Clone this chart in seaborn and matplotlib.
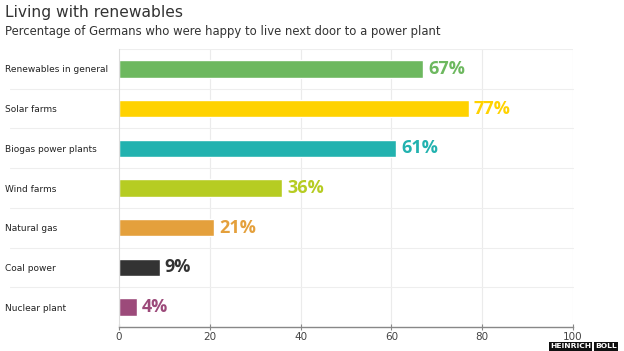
import pandas as pd
import matplotlib
matplotlib.use("Agg")
import matplotlib.pyplot as plt
import seaborn as sns

# data
categories = ["Renewables in general", "Solar farms", "Biogas power plants",
              "Wind farms", "Natural gas", "Coal power", "Nuclear plant"]
values = [67, 77, 61, 36, 21, 9, 4]
bar_colors = ["#6DB85F", "#FFD200", "#22B2AF", "#B6CC22", "#E4A03C", "#333333", "#9C4A7A"]
x_ticks = [0, 20, 40, 60, 80, 100]

df = pd.DataFrame({"category": categories, "value": values})

sns.set_style("white")
plt.rcParams["font.family"] = ["DejaVu Sans"]

fig = plt.figure(figsize=(6.24, 3.51), dpi=100)
ax = fig.add_axes([119 / 624, 1 - 327 / 351, (573 - 119) / 624, (327 - 49) / 351])

sns.barplot(data=df, x="value", y="category", hue="category", palette=bar_colors,
            legend=False, width=0.44, saturation=1, ax=ax)

# grid: vertical lines at ticks, horizontal lines between rows
for t in x_ticks[1:]:
    ax.axvline(t, color="#EBEBEB", lw=0.8, zorder=0)
for i in range(len(categories) - 1):
    ax.axhline(i + 0.5, xmin=-0.24, xmax=1.0, color="#EEEEEE", lw=0.8, zorder=0, clip_on=False)
ax.axhline(-0.5, xmin=0, xmax=1.0, color="#EEEEEE", lw=0.8, zorder=0)

# value labels in bar colour
for i, (v, c) in enumerate(zip(values, bar_colors)):
    ax.text(v + 1.1, i, f"{v}%", color=c, fontsize=13, fontweight="bold",
            fontstyle="normal", family="Open Sans", va="center", ha="left")

ax.set_xlim(0, 100)
ax.set_ylim(len(categories) - 0.5, -0.5)
ax.set_xticks(x_ticks)
ax.set_xlabel("")
ax.set_ylabel("")
for s in ["top", "right"]:
    ax.spines[s].set_visible(False)
ax.spines["left"].set_color("#DDDDDD")
ax.spines["left"].set_linewidth(0.8)
ax.spines["bottom"].set_color("#888888")
ax.spines["bottom"].set_linewidth(1.0)
ax.tick_params(axis="x", direction="inout", length=5, width=0.8, color="#888888",
               labelsize=7.5, labelcolor="#444444", pad=1, bottom=True)
ax.tick_params(axis="y", length=0, labelsize=6.5, labelcolor="#222222", pad=82)
for lbl in ax.get_yticklabels():
    lbl.set_horizontalalignment("left")

fig.text(5 / 624, 1 - 13 / 351, "Living with renewables", fontsize=11.2,
         color="#333333", va="center", ha="left")
fig.text(5 / 624, 1 - 31 / 351,
         "Percentage of Germans who were happy to live next door to a power plant",
         fontsize=8.4, color="#333333", va="center", ha="left")

# watermark
fig.text(550 / 624, 1 - 346.5 / 351, "HEINRICH", fontsize=5.4, fontweight="bold",
         color="white", ha="left", va="center",
         bbox=dict(facecolor="#111111", edgecolor="none", pad=0.8))
fig.text(595 / 624, 1 - 346.5 / 351, "BOLL", fontsize=5.4, fontweight="bold",
         color="white", ha="left", va="center",
         bbox=dict(facecolor="#111111", edgecolor="none", pad=0.8))

fig.savefig("out.png", dpi=100)
